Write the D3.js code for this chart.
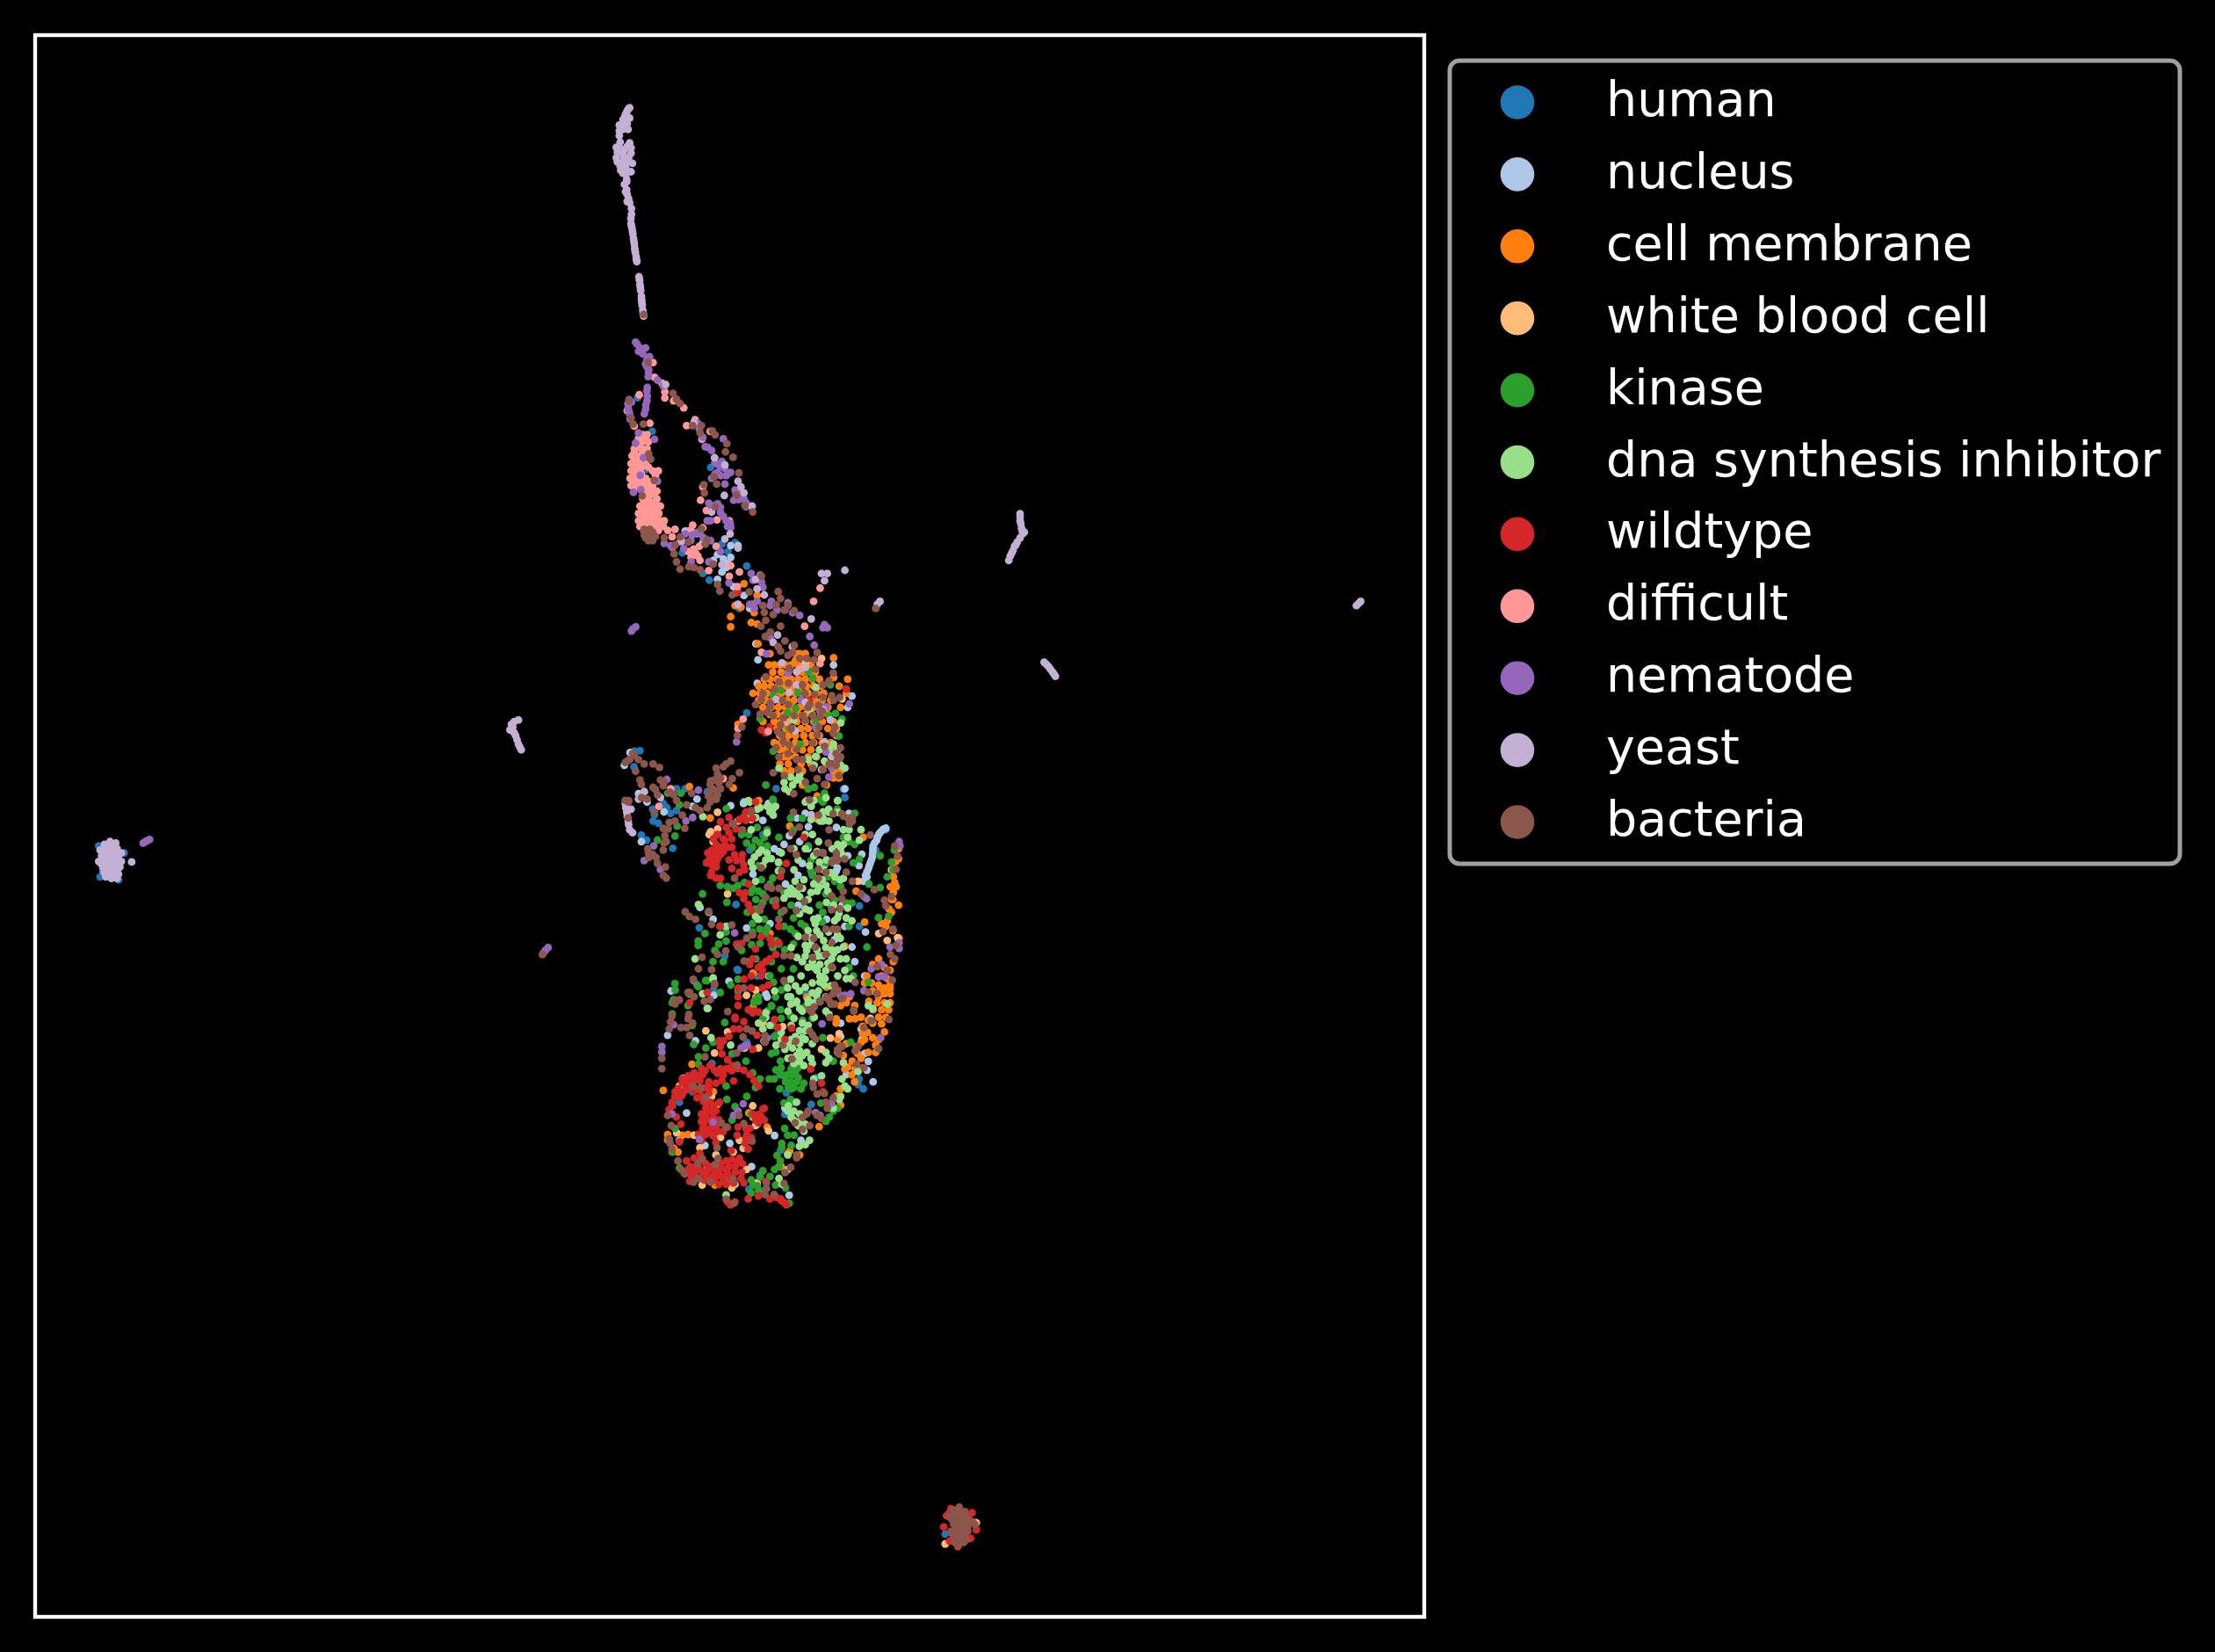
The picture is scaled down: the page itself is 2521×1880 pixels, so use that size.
<!DOCTYPE html>
<html><head><meta charset="utf-8">
<script src="https://cdn.jsdelivr.net/npm/d3@7"></script>
<style>html,body{margin:0;background:#000}svg{display:block}</style></head><body>
<script>
const categories=["human","nucleus","cell membrane","white blood cell","kinase","dna synthesis inhibitor","wildtype","difficult","nematode","yeast","bacteria"];
const colors=["#1f77b4","#aec7e8","#ff7f0e","#ffbb78","#2ca02c","#98df8a","#d62728","#ff9896","#9467bd","#c5b0d5","#8c564b"];
const human=[[461.7,304.7],[451.3,280.9],[457.1,331.7],[455,319.2],[503.1,330.2],[528.6,400],[502.1,410],[511,384.5],[483,390.7],[469.5,371],[497.5,405.2],[520.3,383.5],[515.2,389.7],[523.4,430],[453,530.7],[449,531],[528.6,504],[462.3,580.4],[469.5,568],[478.9,557.6],[485,557.6],[474.7,575],[478.9,573],[454,590.4],[457.7,594],[476.2,599.7],[463.3,576],[448.8,542],[500.6,559.7],[549.4,557.6],[598,563.8],[597,558],[627,586.6],[619.8,601],[518.3,582.5],[521,639.5],[495,656],[521.8,685.5],[513,676],[608.3,640.5],[608.3,655],[570,701.7],[530.7,601],[556.6,772.8],[561.2,753.6],[480.9,779.5],[530,841],[538,831],[552.4,813.7],[574.2,781],[522.4,686],[528.6,737],[607.4,767],[549.3,731.8],[555.6,788],[71,620],[70,598],[84,622],[88,603],[73,614],[672,1070],[669,1085],[462,572],[466,582],[472,571],[611,770],[608,763],[540,590],[590,608],[566,640],[552,760],[504,752],[490,772],[505,700],[536,690],[578,762],[628,710],[590,535]];
const nucleus=[[485,375.2],[489.2,375.2],[517.2,385.5],[522.4,385.5],[512,394.9],[517.2,393.9],[507.9,391.8],[507.9,409.4],[511,404.2],[519.3,414.6],[526.6,420.8],[530.7,430],[497.5,383.5],[514.1,401],[493,377],[505,396],[515,398],[627,585.5],[625.5,586],[624.5,587],[623,588.5],[622,590],[621,592],[620.5,594],[619,596],[618,598],[617.8,600],[617.8,602],[617.6,604],[617.5,606],[616.8,608],[616,610],[615.3,612],[614.7,614],[613.6,616.5],[612.6,619],[611,623],[613.6,620],[598,557.6],[536.5,466.4],[563.9,578.3],[558.7,590.8],[572.2,584.5],[588.7,609.4],[591.9,615.7],[454,595],[493.4,564.9],[456,559.7],[517.2,569.6],[526.6,567],[475,700.7],[516,693.8],[505.4,703.8],[472.6,732],[516.6,808.5],[548.3,803],[558.6,845.2],[566.9,806.4],[555.6,783.6],[595,733],[614.6,750.5],[613.6,756.7],[599,759.8],[609.5,727.6],[542,719.4],[542,702.7],[520.3,837.5],[492.3,736],[480.9,806.4],[595,723.5],[526.3,568],[544,568],[551.3,602],[568,610.5],[583.5,611.5],[592.7,613.6],[564.9,618.8],[601,575],[612.6,659],[528.5,656.1],[545,653],[495.5,641.6],[504.8,650],[598,655],[543,705],[590.7,664.4],[603,669.6],[446,532],[442,541],[452,561],[458,567],[470,574],[490,570],[536,483],[535,455],[590,470],[603,492],[600,500],[576,478],[557,480],[566,595],[575,618],[596,640],[610,604],[608,612],[559,632],[544,690],[533,618],[578,650],[610,735],[612,745],[616,720],[486,787],[499,810],[532,825],[572,600],[565,640],[555,597],[592,585],[600,605],[585,650],[556,625],[548,600],[540,580],[570,575],[605,680],[612,690],[618,765]];
const cellMembrane=[[531.7,440],[536,441],[517.2,435.8],[517.2,443],[536.5,455],[545,462],[563,462],[566,462],[570,462],[548,470],[552,470],[556,470],[560,470],[565,470],[570,470],[574,470],[547,475],[553,475],[558,475],[564,475],[568,475],[572,475],[577,475],[541,480],[545,480],[550,480],[555,480],[560,480],[565,480],[570,480],[575,480],[580,480],[590,479],[537,485],[541,485],[546,485],[551,485],[556,485],[561,485],[566,485],[571,485],[576,485],[581,485],[594,485],[533,490],[538,490],[543,490],[548,490],[553,490],[558,490],[563,490],[568,490],[572,490],[578,490],[583,490],[599,490],[537,495],[542,495],[547,495],[552,495],[557,495],[562,495],[567,495],[572,495],[577,495],[582,495],[588,495],[540,500],[546,500],[551,500],[556,500],[561,500],[566,500],[571,500],[576,500],[581,500],[586,500],[545,505],[550,505],[555,505],[560,505],[565,505],[570,505],[575,505],[581,505],[586,505],[540,510],[548,510],[553,510],[558,510],[564,510],[570,510],[576,510],[582,510],[590,510],[550,515],[556,515],[561,515],[567,515],[572,515],[578,515],[586,515],[592,515],[552,520],[558,520],[563,520],[569,520],[575,520],[580,520],[592,520],[548,525],[553,525],[557,525],[563,525],[570,525],[576,525],[582,525],[588,525],[552,530],[556,530],[562,530],[568,530],[574,530],[590,530],[555,535],[558,535],[563,535],[572,535],[578,535],[590,535],[552,540],[558,540],[567,540],[574,540],[585,540],[592,540],[555,545],[560,545],[568,545],[590,545],[595,545],[590,550],[594,550],[568,555],[585,555],[572,557.6],[578.4,562.8],[502.7,578.3],[522.4,512],[526.6,412.5],[521.4,418.7],[520.3,428],[524.5,429],[535.9,420.8],[532.8,427],[533.8,433],[632.3,619.8],[633.3,624],[630.2,627],[634.3,627],[632.3,631.2],[631,636],[629.2,642.6],[628.1,651],[624,653],[636.4,663.4],[621.9,678],[632.3,680],[617.7,682],[626,684],[630,686],[613.6,690],[621.9,696.5],[626,698.6],[630,696.5],[617.7,700.7],[621.9,704.8],[626,702.7],[630,702.7],[620.9,709],[626,709],[630,709],[624,714],[629,714],[621.9,719.3],[627,719.3],[614.6,721.4],[609.5,719.3],[605.3,720.4],[601.2,720.4],[610.5,725.6],[617.7,723.5],[610.5,730.7],[609.5,737],[606.3,740],[592.9,735],[595,740],[592.9,744],[597,746.3],[619.8,739],[619.8,744.2],[614.6,744.2],[603.2,750.4],[609.5,748.4],[600.1,754.6],[605.3,755.6],[611,755],[604.9,765],[626,729.7],[617.7,733.8],[591.8,720.4],[591.8,723.5],[595,711],[599,709],[601.2,704.8],[595,770],[595,781.5],[592,775],[579.8,796.7],[557.6,815.7],[566,816.8],[469.5,771],[489.8,752.5],[472.6,802.3],[483,802.7],[487,802.3],[472.6,806],[479.9,814.7],[477,812],[508,781],[505,772],[536,795],[530,787],[543,797],[514,836],[506,838],[553,825],[559,814],[611,592],[634,609],[636,640],[578.4,579],[559,584],[606,630],[612,652],[537,566],[519,557],[488,556],[545,660],[533,688],[598,669],[612,695],[605,711],[585,698],[571,705],[535,705],[533,712],[624,690],[628,692],[617,695],[623,700],[615,708],[618,714],[624,724],[630,699],[612,735],[614,730],[622,735],[607,745],[599,738],[598,756],[603,760],[632,636],[633,614],[636,600],[636,607],[631,645],[627,655],[632,658],[590,465],[595,500],[600,480],[544,470],[563,467]];
const whiteBloodCell=[[507.9,574.2],[504.8,595],[522.4,580.4],[515,632],[531.7,579.4],[607.3,623],[635.3,663],[631,615],[499.6,728.9],[505.8,744.6],[532.8,782],[544,799.6],[528.4,827],[491.3,802.7],[483.4,762.5],[523.4,806.4],[536.9,741],[587.7,734],[581.5,742],[515,729.7],[528.4,703.8],[510,804.3],[500.6,825],[495.4,811.6],[506.8,816.8],[503.7,775.3],[534.8,796],[519,814.7],[499.6,833.4],[535.9,836.5],[581.5,465.4],[570,468.5],[503,588],[508,586],[596,494],[677,1073],[691,1077],[669,1092],[490,826],[513,834],[479,801],[554,726],[594,731],[622,660],[628,665],[535,700],[540,723],[527,741],[502,590],[526,812],[533,790],[497,838],[518,840],[481,768]];
const kinase=[[547,565],[559.6,578.4],[528.5,596],[534.7,594],[532.6,599],[541,592],[551.3,592],[561.6,586.7],[572,598],[574,608.5],[575,618.8],[584.5,632],[582.4,645],[561.7,649],[567,653],[559.6,657],[539,622],[532.7,628],[536.9,630],[540,632],[531.6,631],[522.4,626],[515,627],[509.8,626],[497.3,632],[514.5,638],[534.7,642.7],[534.7,647],[532.6,653],[537.8,657],[532.6,659],[543,656],[551.3,667.5],[555.4,671.6],[549.2,665],[561.6,667.5],[561.6,685],[494.2,665.4],[494.2,668.5],[508.7,667.5],[514,659],[514,665.4],[504.7,680],[499.4,693.4],[477.8,695.5],[494.2,697.6],[509.8,701.8],[488,703],[476.8,706.8],[487,711],[536.8,704.8],[533.8,709],[547.5,694.5],[522.4,692.4],[546,711],[552.4,714],[561.6,709],[574,615.7],[590.8,623],[590.8,636.4],[599,638.5],[608.3,607.4],[605,597],[601,595],[597,592],[567.9,578.4],[613.6,669.6],[621.8,648.8],[629,647.8],[633,601],[631,609.5],[623,627.5],[611.5,634],[603,638.5],[601,684],[604,690],[551.3,610.5],[547,620.8],[580.2,565],[592.6,572],[543,586.7],[553,760],[557,760],[561,760],[565,762],[556,765],[560,765],[564,765],[558,769],[562,769],[556,762],[560,756],[563,758],[544.5,763],[548,763],[549.2,756.6],[549.2,744],[552.4,750.4],[559.5,718.3],[568,721.4],[569,766],[559.5,777.4],[561.6,779.5],[555.4,798],[557.5,802.7],[562,802.7],[553.4,808.5],[553.4,811.5],[552.3,821],[551.3,825],[548.3,827],[540,828],[538,832.3],[536,838.5],[531.7,843.7],[531.7,834.4],[558.6,851],[584.6,792.9],[589.8,785.7],[593,783.6],[582.4,733.8],[589.8,750.4],[602.2,737],[537.9,762.9],[534.8,769],[514,768],[528.6,775.3],[514.5,777.4],[531.7,788],[520.3,782.6],[518.2,792],[482,775.3],[477.8,798],[475.7,814.7],[481,826],[528,750.4],[532.8,758.7],[494.4,752.5],[499.6,741],[504.8,737],[491,738.6],[494.4,747.3],[513,723],[518.2,745.3],[546.2,711.5],[517.2,696.5],[522.4,700.7],[533.8,708],[536.9,708],[493.4,696.5],[475.8,709],[475.8,717],[500.6,693.4],[614.6,694.5],[542.1,555],[547.3,565.5],[514.1,571.7],[465.4,593.9],[477.8,591],[482,560.7],[479.3,584],[472.7,560.7],[481,569],[559.7,578.3],[582.5,567],[583.6,560.7],[572.2,557.6],[576.3,556.6],[557.6,503.7],[563.2,500.6],[558.3,514],[566.4,526],[575.3,479.3],[577.3,510],[591.4,504.3],[596,508.3],[593.9,520.3],[586.7,505.8],[587.7,484],[564.9,489.6],[538,507.9],[547.3,531],[594,537],[572.2,474.7],[552.5,488],[547.3,491],[538,596],[543,598],[525,590],[530,590],[536,585],[537,612],[545,625],[555,631],[560,640],[553,645],[547,637],[540,638],[537,650],[542,660],[547,670],[532,668],[525,672],[530,680],[546,680],[553,685],[556,695],[543,715],[540,720],[547,725],[553,700],[570,712],[575,720],[584,610],[586,620],[595,627],[604,610],[615,625],[601,655],[578,622],[580,640],[605,575],[623,605],[632,615],[628,620],[519,628],[527,624],[535,636],[529,645],[541,650],[538,667],[535,678],[555,655],[563,660],[570,655],[582,652],[588,640],[545,690],[549,705],[553,720],[548,733],[552,738],[546,745],[560,770],[552,770],[567,770],[553,755],[565,755],[555,780],[550,817],[545,832],[541,842],[537,842],[533,838],[549,838],[556,840],[560,810],[581,780],[587,790],[506,672],[512,680],[499,660],[490,725],[478,700]];
const dnaInhibitor=[[547,572],[543,570],[545,574],[549,570],[530.7,567],[536,572],[531.7,586.6],[539,601],[537,603],[543,603],[542,608],[531.7,609.5],[532.8,613.6],[551,609.5],[551,615.7],[543,588.7],[534.8,623],[536.9,650],[534.8,648],[562.8,623],[559.7,628],[561.8,632],[566,634],[557.6,631],[563.9,630],[570,642.6],[576,625],[580,627],[584.6,626],[578.4,630],[574,631],[576,650],[579,649],[577,653],[573,643.7],[592.9,597],[595,600],[597,597],[592.9,604],[589,600],[582.5,603],[579.4,595],[582.5,574],[586.6,572],[582.5,580.4],[574,579.4],[570,567],[576,566],[584.6,564],[592.9,566],[597,586.6],[601,586.6],[609.4,586.6],[608.3,594],[578.3,602],[576,605],[580,609.5],[582.5,614.6],[594.8,622],[597,621],[593.8,645.7],[592.8,649],[599,649],[603,651],[590.7,651],[592.8,661],[594.8,663.4],[586.5,659],[580.3,661],[570,668.5],[574,668],[584.5,670],[588.7,671.6],[592.8,671.6],[596.9,669.6],[578.3,671.6],[582.4,675.8],[588.7,678],[594.8,678],[599,678],[570,676],[568,680],[572,684],[580.3,682],[584.5,686.2],[578.3,686.2],[582.4,690.3],[580.3,694.4],[579.3,700.7],[583.4,696.5],[584.5,704.8],[559.6,692.4],[557.5,698.6],[559.6,704.8],[563.7,709],[565.8,700.7],[572,709],[576,709],[567.9,715],[602.3,692],[598,686.2],[599,692],[509.8,655],[514,655],[509.8,661],[494.4,639.5],[501.7,645],[504.7,692.4],[492,678],[497.3,702.7],[500.6,713],[557.7,704.8],[559.8,710],[563.9,708],[557.7,715],[572,706.9],[580.4,690.3],[584.6,715],[586.7,717.3],[576.3,719.3],[568,723.5],[565.9,728.7],[570,728.7],[568,733.8],[557.7,738],[555.6,742],[561,741],[557.7,748.4],[563.9,746.3],[568,746.3],[571,744.2],[574,748.4],[565.9,750.4],[569,753.5],[560,748],[549.3,739],[584.6,744.2],[586.7,748.4],[584.6,751.5],[597,751.5],[607.3,757.7],[596,762.9],[628,710],[614.6,711],[617.7,713],[536.9,723.5],[540,727.6],[557.6,785.7],[561.8,785.7],[566,787.7],[561.8,792],[564.9,796],[569,800],[563.8,779.5],[576,763],[581.5,760.8],[595,775.3],[594,777.4],[589.8,783.6],[565.8,810.6],[570,809.5],[573,806.4],[551.4,833.4],[553.5,837.5],[557.6,816.7],[557.6,827],[503.3,733.8],[517.2,739],[501,713],[504.8,691.4],[514,845],[542,716.2],[548.3,700.7],[551.4,543],[555.6,548.3],[559.7,549.3],[563.9,551.4],[568,552.4],[555.6,557.6],[558.7,559.7],[577.3,534.8],[576.3,541],[583.6,538],[588.7,534.8],[595,541],[598,543],[561.8,509],[577.3,486],[573,501.6],[595,511],[572,537],[571,566],[574.2,570],[582.5,578.3],[586.7,574.2],[592.9,566],[592.9,574.2],[545.2,572],[547.3,576.3],[497.5,577.3],[529.7,566],[538,571],[586.7,580.4],[580.5,580.4],[587,530],[590,526],[591,620],[586,630],[570,590],[575,590],[570,600],[562,600],[565,608],[562,615],[573,612],[569,622],[585,638],[572,658],[565,662],[560,670],[564,677],[575,680],[589,684],[593,690],[588,697],[575,695],[567,690],[563,697],[570,698],[575,702],[553,730],[560,725],[553,735],[566,738],[575,738],[545,725],[578,658],[583,665],[574,663],[579,676],[586,681],[590,674],[571,672],[576,684],[584,692],[578,704],[566,713],[562,720],[572,725],[563,733],[570,735],[562,752],[566,743],[575,752],[560,735],[590,610],[596,604],[600,592],[585,608],[590,640],[600,642],[555,635],[568,628],[582,622],[588,617],[572,636],[566,646],[560,790],[558,782],[566,793],[570,795],[600,770],[598,768],[540,612],[546,607],[553,603],[534,606],[529,575],[535,578],[555,553],[561,555],[566,548],[580,530],[585,530],[593,530]];
const wildtype=[[522.4,418.3],[519,582.5],[516,588.7],[512,593],[506.9,597],[503.7,601.2],[510,599],[518,593],[503.7,606.3],[510,604.3],[515,599],[503.7,611.5],[506.9,609.5],[503.7,616.7],[506.9,620.9],[510,621],[526.5,577.3],[531.7,573],[532.7,578.4],[523.4,579.4],[520,604.3],[525.5,604.3],[521.4,608.4],[526.5,611.5],[518,614],[523.4,616.7],[534.8,567],[556.6,610.5],[569,592],[552.4,619.8],[523.4,631.2],[527.6,631.2],[526.5,635.4],[529.7,639.5],[531.7,643.7],[549.2,640.5],[551.3,655],[509.8,655],[538.8,662.3],[545,663.4],[546,667.5],[551.3,666.5],[534.8,671],[521.4,667.5],[525,667],[549.2,674.8],[545,678],[542,680],[539,682],[536.9,684],[539.8,686],[539,690],[532.8,678],[530.7,682],[531.7,690],[526.6,692.4],[522.4,698.6],[531.7,698.6],[539.9,698.6],[544,696.5],[522.4,704.8],[522.4,711],[529.7,714],[533.8,715],[520.3,719.3],[500.6,701.7],[488.2,709],[520.3,720.4],[526.5,722.4],[519.3,727.6],[523.4,727.6],[516,732.8],[512,736],[509.8,740],[511,745.3],[515,749.4],[509,736],[532.8,716.2],[536.9,715.6],[548.3,720.8],[550.4,726.6],[555.6,735],[560.3,727],[535.9,732],[532.8,742],[573.8,756],[581.5,766],[582.5,772],[519.3,764.3],[509.3,779.5],[540,784.2],[538.9,789.8],[521.8,802.7],[517.6,813.7],[522.4,755.6],[526.5,756.7],[530.7,759.8],[533.8,764],[536.9,768],[518.2,753.5],[514,755.6],[510,755.6],[505.8,756.7],[502.7,753.5],[496.5,755.6],[491.3,758.7],[487.1,760.8],[497.5,759.8],[483,766],[487.1,766],[491.3,764],[495.4,764],[501.7,765],[506.8,766],[511,764],[479.9,770],[485,771],[477.8,775.3],[475.7,779.5],[473.7,784.6],[491.3,771],[495.4,771],[497.5,775.3],[493.4,776.3],[501.7,773],[502.7,779.5],[499.6,783.6],[496.5,787.7],[502.7,785.7],[506.8,785.7],[496.5,793],[500.6,791.9],[504.8,789.8],[508.9,791.9],[497.5,798],[502.7,798],[506.8,797],[512,800.2],[515,797],[499.6,802.2],[504.8,803.3],[494.4,802.2],[496.5,806.4],[506.8,808],[481,807.4],[478.8,789.8],[482,795],[541,783.6],[534.8,792],[530.7,798],[536.9,794],[541,792],[528.6,802.3],[531.7,804.3],[527.6,808.5],[529.6,812.6],[522.4,797],[486,821],[491.3,819],[495.4,815.7],[494.4,821],[499.6,823],[503.7,825],[510,823],[514,821],[518.2,820],[523.4,819],[525.5,823],[520.3,825],[514,827],[508.9,827],[504.8,831.3],[510,831.3],[515,830],[520.3,829],[524.5,833.4],[526.5,836.5],[519.3,836.5],[514,837.5],[508.9,837.5],[503.7,835.4],[498.5,834.4],[494.4,833.4],[489.2,831.3],[484,829],[487.1,827],[491.3,829],[495.4,827],[497.5,829],[488.2,835.4],[520.3,850],[515,850],[542,835.4],[536.9,845.8],[529.6,847.9],[545,847.9],[549.3,846.8],[552.4,847.9],[554.5,850],[556.6,852],[573,495],[599,487],[539,516],[545,514],[542,518],[510,581],[516,578],[500,780],[498,790],[504,796],[668,1080],[670,1072],[673,1067],[687,1088],[678,1094],[688,1070],[672,1090],[691,1082],[514,585],[521,586],[508,590],[513,598],[505,603],[508,607],[502,608],[507,613],[503,619],[513,594],[505,593],[512,602],[518,599],[507,601],[500,610],[501,603],[528,574],[528,580],[516,608],[525,608],[527,615],[483,763],[489,762],[478,772],[481,776],[493,760],[499,757],[508,759],[512,760],[518,757],[490,768],[486,770],[499,769],[502,769],[476,782],[483,774],[505,782],[498,779],[500,787],[505,793],[498,795],[500,799],[503,801],[508,800],[497,803],[528,805],[528,798],[533,788],[537,788],[489,825],[493,825],[501,827],[506,829],[511,826],[516,825],[522,822],[512,834],[517,833],[506,833],[500,831],[492,831],[548,845],[553,849],[517,852],[525,829],[530,625]];
const difficult=[[452.5,278.8],[462.3,256],[463.3,266.4],[468.5,270.5],[470.6,276.7],[470.6,281],[476.8,283],[484,288],[486,300.6],[492,296.4],[502.7,304.7],[496.9,310.3],[497.5,344],[495.9,353.4],[500,360.7],[507.5,367.3],[516.2,368],[470.2,368],[472.7,374.8],[477.8,374],[490.3,371],[497.5,373],[475.8,379.3],[506.9,386],[487.2,389.7],[492.3,390.7],[489.2,393.9],[495.5,396],[501.7,403.2],[517.2,399.7],[523.4,404.2],[516.2,407.3],[522,414.6],[575.9,425],[580.5,415.6],[455,307],[458,307],[455,312],[459,312],[449,317],[454,317],[458,317],[447.4,322],[452,322],[446.7,327.5],[451,327.5],[457,327.5],[446.7,332.7],[451,332.7],[462,332.7],[466,332.7],[446,338],[451,338],[457,338],[446.7,343],[451,343],[457,343],[462,343],[456,347],[461,347],[465,347],[455,352.4],[459,352.4],[465,352.4],[453,357.6],[457,357.6],[462,357.6],[467.5,357.6],[452,362.8],[457,362.8],[461,362.8],[466.4,362.8],[452,368],[457,368],[462,368],[467.5,368],[453,372],[458,372],[463,372],[469.5,372],[569.5,442.6],[526,508.3],[522.4,515],[543.8,517],[556.6,510.3],[566.4,472.6],[580.4,469],[512,550.4],[474.7,557.6],[466.4,570],[539,461],[449,301],[460,299],[444,290],[488,375],[495,386],[452,310],[456,309.5],[451,315],[456,320],[449,319.5],[449,325],[454,325],[449,330],[454,330],[459,330],[449,335],[454,335],[464,336],[448.5,340.5],[454,340.5],[460,340.5],[449,345],[459,345],[463,349.5],[458,350],[456,355],[461,355],[464,355],[455,360],[459,360],[464,360],[454,365],[459,365],[464,365],[455,370],[460,370],[465,370],[456,375],[461,375.5],[466,375],[494,393],[491,388]];
const nematode=[[449.9,241.5],[453,245.6],[455,249.8],[457,245.6],[459.8,251.8],[457,257],[459.2,261],[458.8,266],[465.4,268.4],[469.5,272.6],[445.3,282.3],[444.7,288],[445.7,292.3],[458.2,273.6],[458.2,279.8],[457.1,286],[456.1,292.3],[451.9,305.7],[449.9,313],[463.3,310.3],[455.4,323.4],[453.2,335.8],[465.4,340],[453.6,346],[448.4,347.8],[491.3,298.5],[497.5,308.9],[499.2,315.5],[503.7,318.2],[505.8,323.4],[510,329.6],[517.2,333.7],[507.9,333.7],[503.7,337.9],[513.1,342],[512,310],[520.3,346.2],[524.5,348.2],[526.6,352.4],[519.3,353.4],[530.7,357.6],[510,358.6],[501.7,355.5],[512,364.8],[500.6,368],[517.2,372.7],[493.4,376.2],[485,377.3],[495.5,377.3],[484,387.6],[474.7,385.6],[470.2,383.9],[489.2,397],[501.7,397],[510,389.7],[516,412],[531.7,405.3],[538,406.3],[539,411.5],[530.7,427],[535.9,425],[545.2,428],[555.6,431],[557.7,426],[566,435],[447,446],[450,443],[447.8,444.6],[583.6,441.5],[585.6,443.6],[582.5,443.6],[573.2,449.8],[576.3,456],[542.5,462.2],[557.7,475.7],[567,494.8],[584.6,499.6],[580.5,502.7],[521.4,524.4],[601.2,497.5],[545.2,450.8],[588.7,543],[586.7,549.3],[584.6,531.7],[577.3,514],[494.4,558.6],[472,551],[485.5,580.4],[490.3,577.9],[462.7,598],[456,608.4],[467.5,614.6],[636.4,595],[637,598],[520,659.6],[613.4,635.4],[616.7,685],[624,682],[621.9,690.7],[626,690.7],[630,669.6],[636.4,666.5],[636.4,670.6],[598,703.8],[602.2,702.7],[611.5,700.5],[490.9,693.4],[468.5,740],[468.5,744],[526.5,740],[524.5,741],[529,739],[540.6,736],[543,734],[581.9,723.9],[623.3,733.8],[594.7,703.8],[526.1,780.5],[522.4,785.7],[519.3,788.8],[504.8,793.4],[495,805.8],[588.7,780],[580.4,788.8],[577.3,786.7],[476.8,724.5],[475.7,787.7],[101.5,596],[103,595],[104,594.5],[106,593.5],[384.5,674],[386,672],[388,670],[73,616],[74,600],[459,263],[452,248],[447,284],[446,296],[458,276],[514,336],[511,326],[523,353],[528,358],[517,370],[504,360],[508,356],[533,410],[534,430],[451,243],[454,247],[458,254],[458,259],[458,283],[457,289],[444.5,285],[445,290],[495,303],[494,299],[501,316],[506,327],[508,328],[513,331],[515,335],[510,336],[506,335],[521,349],[522,352],[525,351],[528,355],[506,357],[510,362],[514,368],[503,368],[515,372],[490,378],[489,382],[481,383],[476,387],[498,380],[503,382],[540,415],[546,425],[550,431],[561,433]];
const yeast=[[445.7,75.7],[444.8,76.5],[444,78],[443.2,79.5],[442.5,81],[445.7,83],[443,85],[444,82],[441,84],[438.4,88],[441,88],[444,87],[444.6,91],[438.4,92],[441,91],[438.4,95.4],[436.3,103.7],[445.7,100.6],[439,100],[437,107],[446.7,104],[446.7,107.8],[442,105],[438,103],[444,103],[441,108],[436.3,111],[441.5,110],[445,111],[437,114],[441,114],[444,114],[447.7,115],[439.4,120],[443,118],[439,117],[446.7,121],[443,123],[441,122],[443.6,126.5],[442,130],[443.6,128],[443.6,133.7],[444,137],[442.8,135],[445,140],[445.7,143],[444,142],[447,147],[447,151],[446.6,154],[446.7,157.6],[447,159.5],[447.4,161],[447.7,163],[448,165],[448.4,168],[448.7,170],[449,172],[449.3,175],[449.5,177],[449.8,178.3],[450.3,181],[450.5,183],[450.8,184.5],[452.3,195.3],[452.6,197],[452.8,198],[453,201],[453.3,203],[453.5,205],[454,209],[454.1,211],[454.2,212],[454.4,214],[454.6,215.6],[455,219],[455.3,221],[455.6,223],[471.2,271.5],[505.8,323.4],[513.1,328.5],[522.4,340],[524.5,344],[526.6,348.2],[532.4,357.6],[512.7,350],[503.7,361.7],[491.3,298.5],[516.8,377.3],[513.1,380.8],[522.4,387.2],[511,399],[534.8,409.4],[535.9,416.2],[541,420.4],[522.4,427],[482.6,382.4],[581.5,405.3],[585.6,405.3],[583.6,410.4],[598,403],[622.9,425],[621,427],[442.6,568],[443.6,574.2],[444.7,580.4],[445.7,586.6],[447.8,588.7],[446.7,572],[443,571],[444,577],[445,583],[467.5,563.8],[456,559.7],[452,564.9],[547.3,454],[550.4,448.8],[553.5,468.5],[563.9,474.7],[570.1,471.6],[558.7,489.2],[563.9,484],[549.4,494.4],[570,496.5],[582.5,501.6],[562.8,516.6],[587.7,508.9],[583.6,524.4],[588.7,534.8],[581.5,544.1],[574.2,575.9],[574.2,437.4],[560.8,457],[364,510],[367,509],[362,512],[361,516],[363,514],[364,518],[365,520],[366,523],[367,526],[368,528],[369,530],[722,363],[722,365],[722,368],[722.5,370],[723,373],[723.5,375],[724,377],[722,380],[720,383],[719,385],[717,389],[716,391],[715,393],[714,396],[725,376],[718,386],[960,428],[961.5,426.5],[963,425],[739,468],[740.5,469.5],[742,471],[743.5,473],[745,475],[746,476.5],[747,478],[74,597],[78,595],[82,596],[71,601],[75,601],[79,600],[83,600],[86,603],[72,605],[76,605],[80,605],[84,605],[70,609],[74,609],[78,609],[82,609],[86,609],[73,613],[77,613],[81,613],[85,613],[74,617],[78,617],[82,617],[84,618],[75,620],[79,621],[83,621],[93.3,609.4],[77,598],[73,603],[77,603],[81,603],[74,607],[78,607],[82,607],[72,611],[76,611],[80,611],[84,611],[75,615],[79,615],[83,615],[77,619],[81,619]];
const bacteria=[[458.8,256],[445.3,283],[446.7,295],[448.2,299.5],[455.4,299.5],[476.4,277.8],[478.9,282],[481.4,285],[490.3,300.6],[496.5,300.6],[495.5,305.7],[504.2,304.3],[506.2,307.2],[514.5,313.4],[513.5,319.2],[518.9,323],[523,334],[505.4,336.8],[507.3,342],[498.2,342.4],[498.6,348.2],[521.4,349.9],[527.2,357],[532.8,361.7],[506.2,358.2],[459.2,320.7],[460.6,324.4],[463.1,339.3],[454.6,350.3],[456,374],[460,374],[456,378],[460,378],[464,379],[459,382],[462,382],[470.2,380],[496.5,373.7],[481.6,379.3],[477.8,385],[487.2,383],[500.6,381.4],[499.2,384.5],[477.2,391.4],[478.9,397],[481.4,402.1],[487.6,400.5],[491.3,401],[495.5,402.6],[504.8,398.6],[507.9,413],[509.5,417.7],[518.3,420.4],[530.3,418.3],[539,407.3],[550.8,418],[552.5,422.9],[549.4,427.4],[557.7,428],[555,431],[562.2,431.6],[540,428],[541,432.8],[547.3,434.3],[619.8,430],[455.6,222],[538.6,442.6],[542,438.4],[552.5,442.6],[545.2,446.7],[541.7,449.8],[555.6,453],[550.8,457],[562.2,456],[552.5,460.2],[557.7,463.3],[560.8,461.2],[566,465.4],[571.1,465.4],[576.3,466.4],[578.4,461.2],[577.3,473],[558.7,472.2],[542.1,478.4],[589.8,475.7],[586.7,481.3],[551.4,482],[558.1,483],[568,484],[582.5,484],[548.3,487],[540,490.2],[569.7,490.2],[576.7,490.9],[582.5,493],[588.7,491.7],[594.3,493],[539,494.4],[554,494.8],[545.2,496.9],[534.8,498.1],[573.2,497.9],[579.4,498.5],[582.1,502.7],[538,504.7],[543.1,503.7],[547.3,505.8],[575.3,505.8],[580.5,506.8],[568,505.8],[570.1,508.9],[554.5,507.4],[562.2,505.8],[552.5,512.4],[579.8,514],[590.8,514],[525.1,513.7],[522,519.9],[550.4,517.2],[553.5,519.3],[578.4,519.3],[589.8,518.2],[554.5,524.4],[558.7,526.5],[583.6,527.6],[549.4,528.6],[563.9,529.6],[595,528.6],[557.7,532.7],[551.4,535.2],[563.9,536.9],[568,536.9],[591.8,532.7],[592.9,536.9],[591.9,541],[575.3,543],[582.5,544.1],[564.9,544.1],[593.9,548.3],[555.2,548.3],[547.3,546.2],[578.4,550.4],[570.1,553],[583.6,554.5],[561.8,561.1],[447.8,532.7],[445.7,536.9],[442.6,539],[451.9,536.9],[456,540],[462.3,540],[466.8,542.5],[449.9,545.2],[453,551.4],[454,554.5],[442.6,565.9],[444.7,567],[444.7,578.3],[454,563.8],[458.1,564.9],[462.3,556.6],[467.5,551.4],[469.5,555.5],[465.4,561.8],[476.8,561.8],[478.9,565.9],[489.6,560.7],[486.1,569],[492.3,571],[495.5,573],[500.6,571],[502.7,567],[501.3,562.8],[505.8,563.8],[507.9,561.8],[502.7,554.5],[505.8,551.4],[507.9,547.2],[506.9,543],[512,542],[517.2,538],[508.9,553.5],[510,557.6],[518.3,550.4],[516.2,554.5],[523.4,546.2],[463.3,574.2],[483,576.3],[477.8,580.4],[473.7,581.4],[469.5,585.6],[470.6,590.8],[471.6,595],[469.5,601],[484.7,585.6],[458.6,600.1],[459.2,606.3],[464.4,606.3],[465.4,610.5],[471,613],[469.5,618.8],[471.6,620.8],[531.7,574.2],[519,582.5],[525.5,586.7],[561.6,574.2],[565.8,584.6],[560.6,588.7],[559.6,600.1],[563.7,604.3],[573,565.5],[579.3,576.3],[589.7,575.3],[586.8,586.7],[595.9,575.3],[600.2,578.4],[603.3,580.4],[601.3,582.5],[616,590.4],[586.3,596],[578.4,603.2],[582.6,603.2],[591.9,603.2],[588.7,609.5],[592.7,608.4],[597.9,607.4],[579.3,614.6],[584.6,616.7],[599,616.7],[579.3,620.9],[603.3,623],[565.9,627],[543.2,627],[546.2,628],[596.9,630.2],[588.6,633.3],[609.4,632],[618.8,629],[595.9,635.4],[542,634.4],[549.2,636.4],[569.4,637.4],[538.8,640.5],[537.9,643.7],[555,643.7],[563.7,643.7],[588.6,643.2],[594.5,642.6],[551.3,650],[485,644.7],[492.3,650],[488,648],[501.7,644.3],[503.7,653.6],[518,654],[584.5,657],[589.7,657],[592.7,657],[570,662.7],[576,663.4],[532.7,661],[528.6,663.4],[522.4,669.6],[513.7,672.3],[507.9,674.8],[584.5,674.8],[588.7,666.5],[577.1,669.6],[554.8,675.8],[559.8,675.8],[575.1,676.8],[588.7,683.5],[526.7,679.5],[634.2,668.5],[630.2,674.8],[633.3,677.9],[620.8,683.5],[628,686.2],[631.6,693],[496.9,676.8],[494.4,685],[503.7,685.5],[490.7,692.4],[505.8,695.5],[487,701.7],[480.7,707],[477.8,710],[475.7,718.3],[554.8,693.4],[590.7,696.5],[589.7,702.7],[585.7,705.9],[595.9,705.9],[580.2,708],[572.9,714],[604.3,714],[614.6,701.7],[620.8,702.7],[633.3,598],[635.3,605.3],[634.2,614.6],[626,636.4],[631,633.9],[627,640.5],[632,657],[625,658.6],[520,620.9],[553.3,615.7],[538.8,613.6],[551.4,628],[605.3,694.5],[590.8,700.7],[586.7,706.9],[590.8,710],[580.4,708.4],[576.3,712],[574.6,715.6],[596.4,705.9],[604.3,715],[616.7,721.8],[611.5,726.6],[629.2,720.8],[621.9,741.5],[607.4,740],[605.3,743],[606.3,752.5],[611.5,755],[595,740],[592.8,742.1],[593.9,745.3],[573.2,729.3],[575.2,731.8],[577.3,734.9],[563.2,736.3],[554.1,739],[560.5,748.8],[587.3,719.4],[575.3,766],[575.7,769],[578.4,773.7],[583.5,773.2],[589.8,776.4],[584.6,779.5],[585.6,783.6],[572.1,785.7],[571.1,787.7],[568,790.2],[562.8,794],[568,798.5],[573.2,796],[578.4,788.8],[581.5,790.9],[563.9,816.8],[563.9,818.8],[559.7,825.5],[555.6,829.2],[555,836.9],[490.7,768],[495.9,769],[499.6,776.4],[472.6,788.8],[475.1,796],[473.7,805.4],[474.3,808.5],[475.7,812.6],[479.9,821],[482,827],[484.7,830.2],[490.9,836],[494.4,833.4],[502.7,835.8],[518.9,833.8],[494,823],[497.1,819.3],[506.2,823.4],[508.3,819.3],[507.5,811.6],[532.3,807],[510.6,794],[513.7,797],[526.5,794.6],[523,788.8],[521.8,753.1],[521.4,744.6],[526,733.2],[532.3,729.1],[528.6,727.6],[541.5,732.2],[541.5,737],[499,747.3],[505.8,696.5],[515.1,715.2],[526.5,698.6],[502.7,706.9],[498.5,708],[487.6,717.3],[487.1,720.4],[490.3,723.5],[486.1,726.6],[482,726.6],[488.2,732.2],[473.7,727.6],[474.7,722.5],[477.8,708],[480.9,707],[488.2,701.7],[491.3,704.8],[468.5,748.4],[468.5,755.6],[514,848],[519.3,851],[542.5,840.6],[541.5,844.8],[547.9,844.8],[542.5,836.5],[384,675],[675,1068],[679,1066],[683,1069],[672,1073],[676,1073],[680,1072],[684,1073],[688,1076],[675,1078],[679,1077],[683,1078],[690,1078],[673,1083],[677,1083],[681,1083],[685,1083],[675,1087],[679,1087],[683,1087],[676,1091],[680,1091],[684,1089],[678,1093],[677,1070],[681,1070],[674,1075],[678,1075],[682,1075],[686,1075],[677,1080],[681,1080],[685,1080],[674,1085],[678,1085],[682,1085],[678,1089],[682,1091],[458,376],[462,376],[457,380],[461,380],[503,552],[505,558],[503,559],[507,565],[510,550],[514,540],[449,534],[444,538],[470,553],[464,558],[474,560],[473,586],[470,596],[462,604],[459,603],[445,566],[590,495],[572,500],[545,500],[558,498],[560,515],[575,525],[587,540],[595,535],[603,578],[597,577],[592,606],[585,705],[593,700],[588,710],[596,740]];
const seriesPoints=[human,nucleus,cellMembrane,whiteBloodCell,kinase,dnaInhibitor,wildtype,difficult,nematode,yeast,bacteria];

const W=2521,H=1880;
const svg=d3.select("body").append("svg").attr("width",W).attr("height",H);
svg.append("rect").attr("width",W).attr("height",H).attr("fill","#000");
const x=d3.scaleLinear().domain([25,1008]).range([40,1621]);
const y=d3.scaleLinear().domain([24.3,1143.6]).range([40,1840]);
const color=d3.scaleOrdinal(categories,colors);
categories.forEach((c,i)=>{
  svg.append("g").attr("class","series").selectAll("circle").data(seriesPoints[i]).join("circle")
    .attr("cx",d=>x(d[0])).attr("cy",d=>y(d[1])).attr("r",4.4).attr("fill",color(c));
});
svg.append("rect").attr("x",x.range()[0]).attr("y",y.range()[0])
  .attr("width",x.range()[1]-x.range()[0]).attr("height",y.range()[1]-y.range()[0])
  .attr("fill","none").attr("stroke","#fff").attr("stroke-width",4.4);
const lg=svg.append("g");
lg.append("rect").attr("x",1650).attr("y",69).attr("width",831).attr("height",914).attr("rx",11)
  .attr("fill","#000").attr("stroke","#a0a0a0").attr("stroke-width",5);
const ly=d3.scalePoint().domain(categories).range([116.5,935.5]);
const row=lg.selectAll("g").data(categories).join("g").attr("transform",c=>`translate(0,${ly(c)})`);
row.append("circle").attr("cx",1727).attr("r",19.3).attr("fill",c=>color(c));
row.append("text").attr("x",1828).attr("y",15.5).attr("fill","#fff")
  .style("font-family","'DejaVu Sans'").style("font-size","55.5px").text(c=>c);
</script></body></html>
